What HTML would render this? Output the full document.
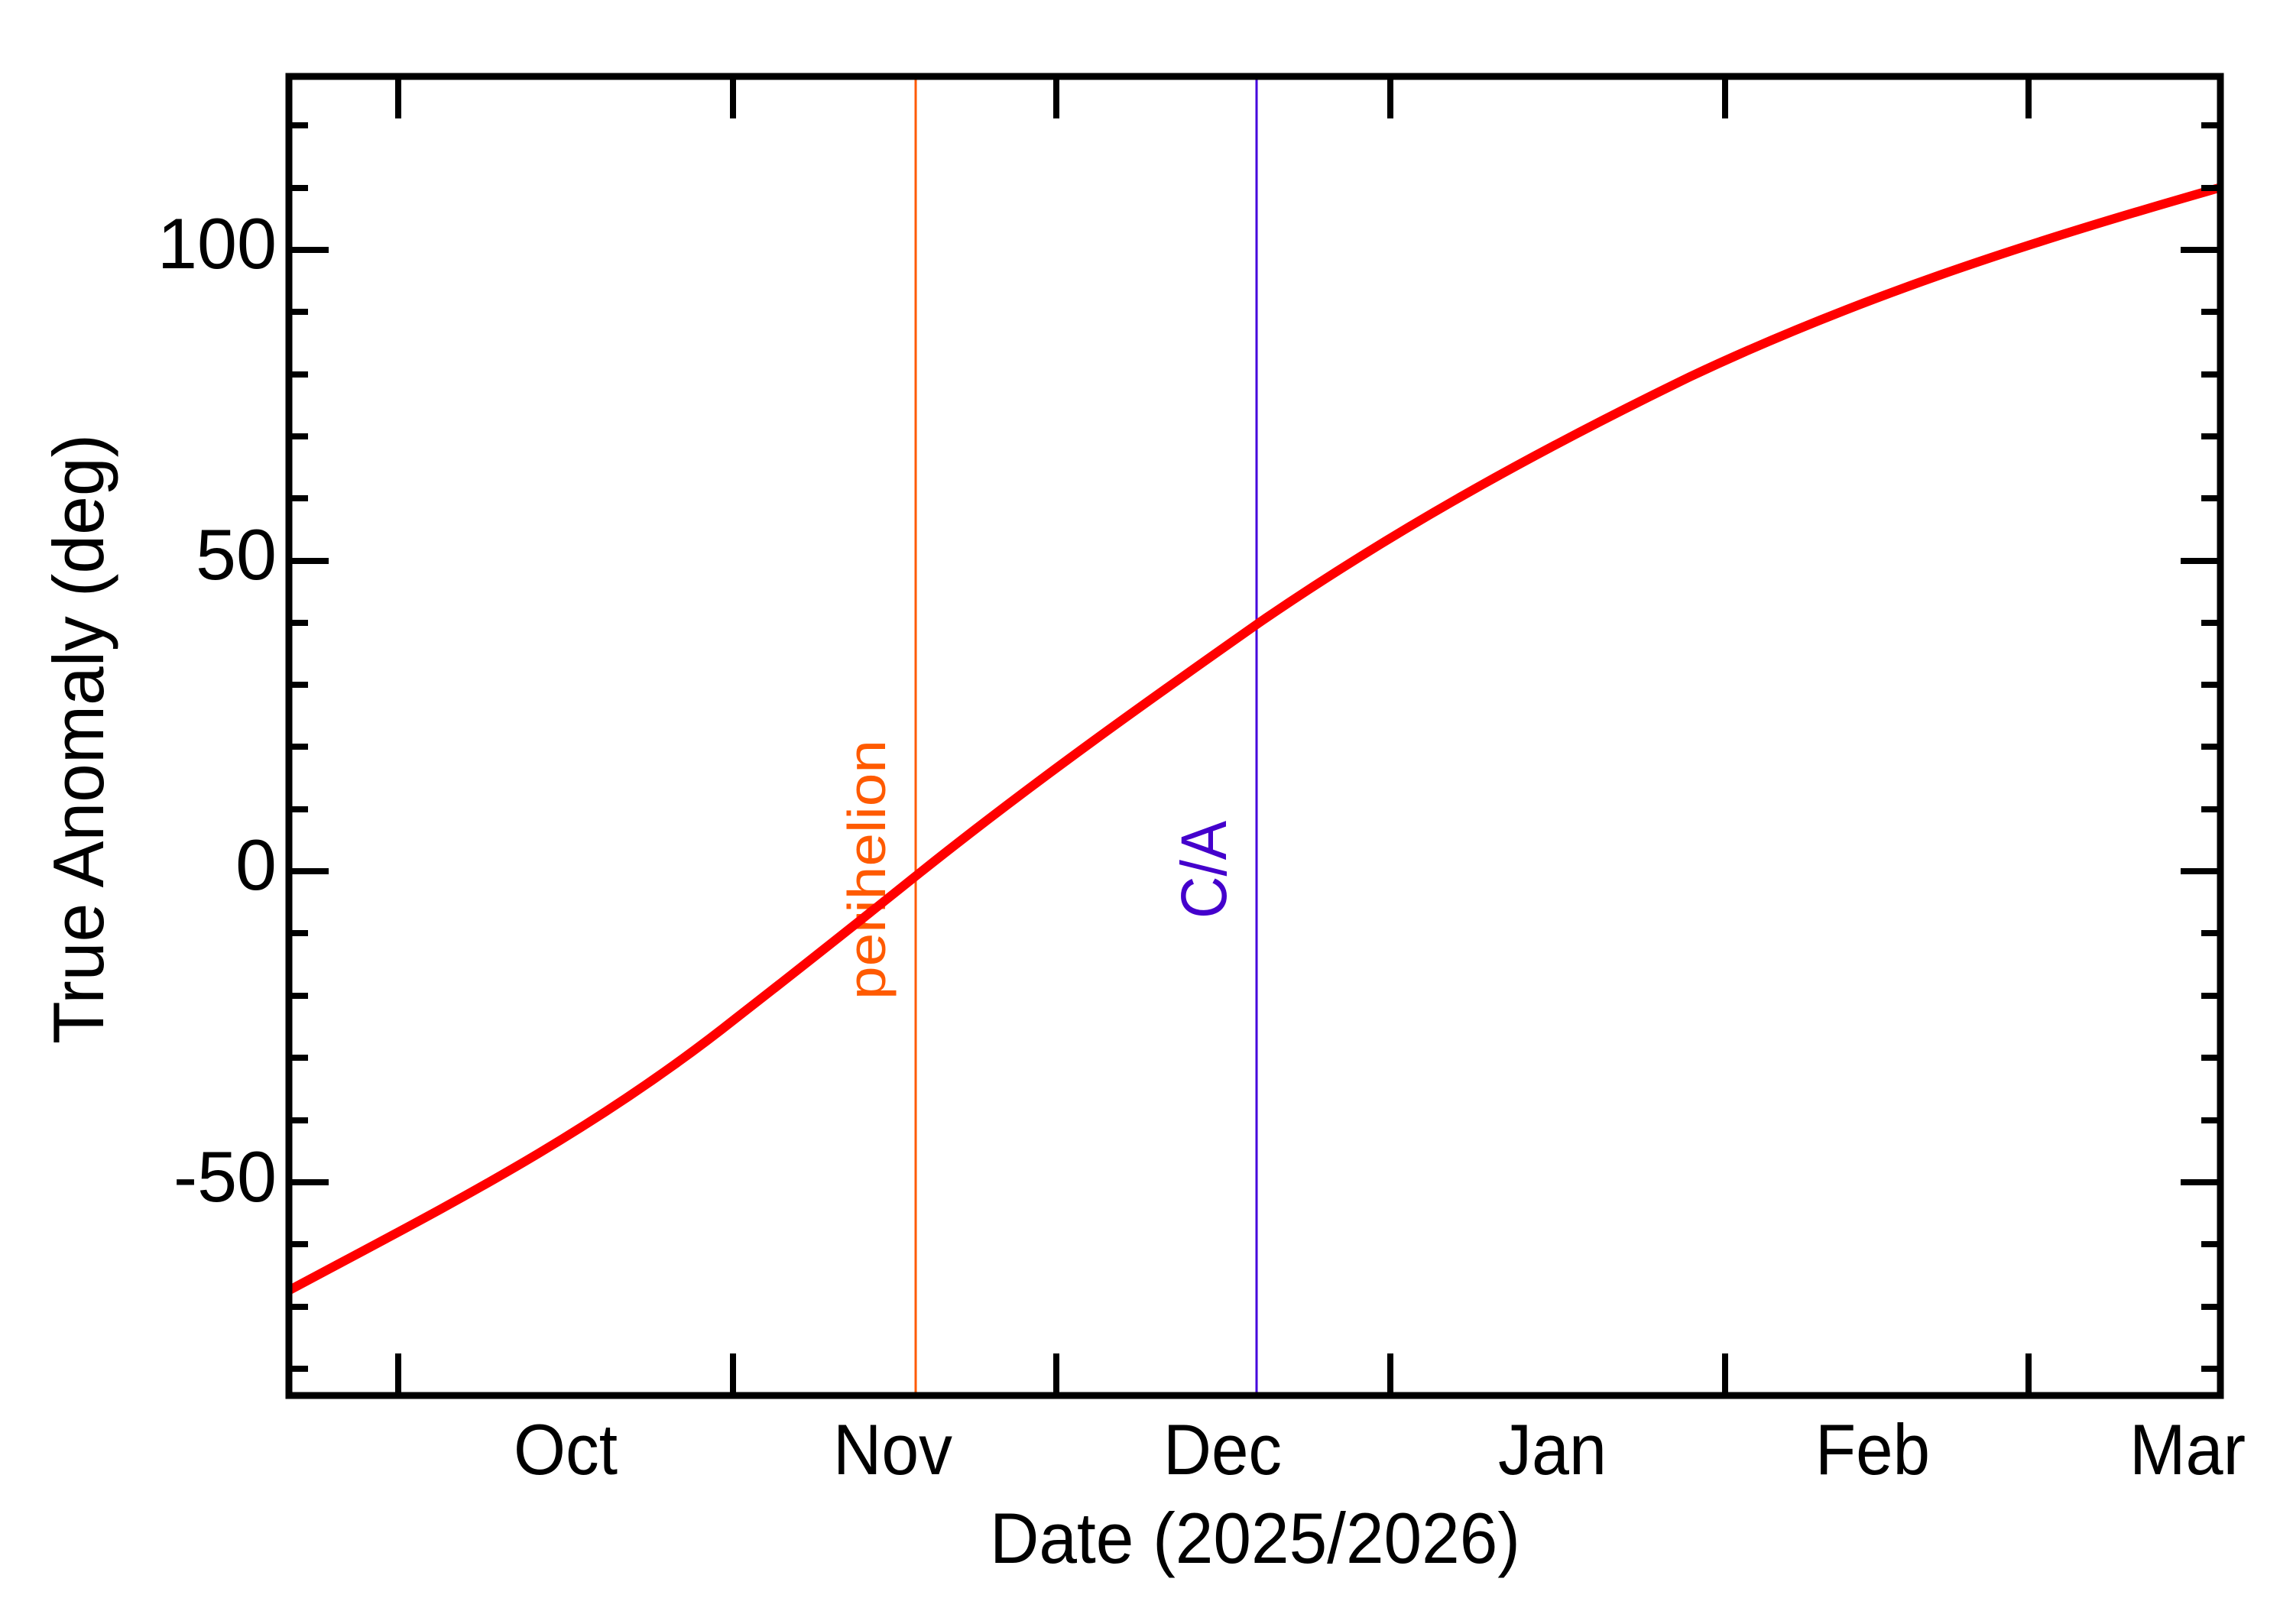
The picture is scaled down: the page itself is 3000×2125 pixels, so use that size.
<!DOCTYPE html>
<html><head><meta charset="utf-8"><style>html,body{margin:0;padding:0;background:#fff}svg{display:block}</style></head>
<body>
<svg width="3000" height="2125" viewBox="0 0 3000 2125" xmlns="http://www.w3.org/2000/svg" font-family="Liberation Sans, sans-serif">
<rect width="3000" height="2125" fill="#fff"/>
<defs><clipPath id="c"><rect x="378" y="100" width="2527" height="1726"/></clipPath></defs>
<line x1="1198" y1="100" x2="1198" y2="1826" stroke="#ff5a00" stroke-width="3"/>
<line x1="1644" y1="100" x2="1644" y2="1826" stroke="#4400dd" stroke-width="3"/>
<text transform="translate(1158,1308) rotate(-90)" font-size="70" fill="#ff5a00" textLength="340" lengthAdjust="spacingAndGlyphs">perihelion</text>
<text transform="translate(1604,1202) rotate(-90)" font-size="84" fill="#4400cc" textLength="128" lengthAdjust="spacingAndGlyphs">C/A</text>
<path clip-path="url(#c)" fill="none" stroke="#ff0000" stroke-width="12" stroke-linejoin="round"
d="M379,1688 C573,1584 768,1487 962,1333 C1043,1270 1125,1205 1206,1140 C1354,1022 1502,917 1650,813 C1837,685 2024,584 2211,493 C2442,384 2674,311 2910,244"/>
<rect x="378" y="100" width="2527" height="1726" fill="none" stroke="#000" stroke-width="9"/>
<g stroke="#000" stroke-width="8">
<path d="M521 1826V1771M959 1826V1771M1382 1826V1771M1819 1826V1771M2257 1826V1771M2654 1826V1771
M521 100V155M959 100V155M1382 100V155M1819 100V155M2257 100V155M2654 100V155"/>
<path d="M378 327H430M378 734H430M378 1140H430M378 1547H430M2905 327H2853M2905 734H2853M2905 1140H2853M2905 1547H2853"/>
<path d="M378 1791H403M378 1710H403M378 1628H403M378 1466H403M378 1384H403M378 1303H403M378 1221H403M378 1059H403M378 977H403M378 896H403M378 815H403M378 652H403M378 571H403M378 490H403M378 408H403M378 246H403M378 164H403
M2905 1791H2880M2905 1710H2880M2905 1628H2880M2905 1466H2880M2905 1384H2880M2905 1303H2880M2905 1221H2880M2905 1059H2880M2905 977H2880M2905 896H2880M2905 815H2880M2905 652H2880M2905 571H2880M2905 490H2880M2905 408H2880M2905 246H2880M2905 164H2880"/>
</g>
<g font-size="94" fill="#000">
<text x="672" y="1929" textLength="136" lengthAdjust="spacingAndGlyphs">Oct</text>
<text x="1090" y="1929" textLength="156" lengthAdjust="spacingAndGlyphs">Nov</text>
<text x="1522" y="1929" textLength="155" lengthAdjust="spacingAndGlyphs">Dec</text>
<text x="1960" y="1929" textLength="142" lengthAdjust="spacingAndGlyphs">Jan</text>
<text x="2375" y="1929" textLength="150" lengthAdjust="spacingAndGlyphs">Feb</text>
<text x="2786" y="1929" textLength="152" lengthAdjust="spacingAndGlyphs">Mar</text>
<text x="1295" y="2045" textLength="694" lengthAdjust="spacingAndGlyphs">Date (2025/2026)</text>
<text x="206" y="351" textLength="156" lengthAdjust="spacingAndGlyphs">100</text>
<text x="256" y="758" textLength="106" lengthAdjust="spacingAndGlyphs">50</text>
<text x="308" y="1164" textLength="54" lengthAdjust="spacingAndGlyphs">0</text>
<text x="227" y="1572" textLength="135" lengthAdjust="spacingAndGlyphs">-50</text>
<text transform="translate(135,1366) rotate(-90)" textLength="798" lengthAdjust="spacingAndGlyphs">True Anomaly (deg)</text>
</g>
</svg>
</body></html>
